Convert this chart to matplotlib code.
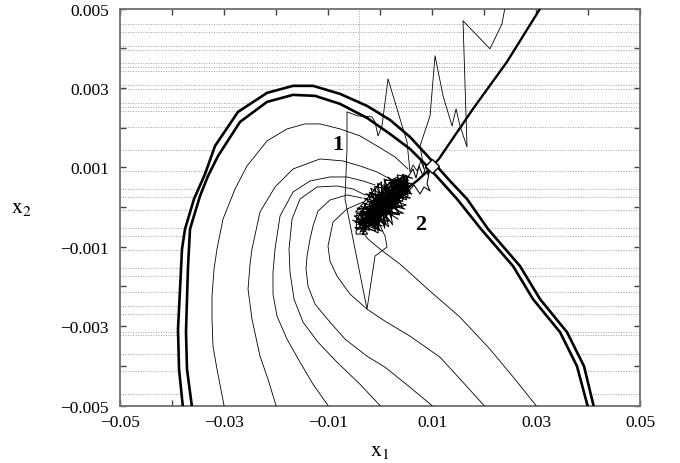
import numpy as np
import matplotlib
matplotlib.use('Agg')
import matplotlib.pyplot as plt

plt.rcParams['font.family'] = ['Liberation Serif', 'DejaVu Serif']
plt.rcParams['mathtext.fontset'] = 'stix'

# все координаты ниже в единицах 1e-3
MILLI = 1e-3

# граница области притяжения (две толстые кривые)
outer_x = [-37.9, -38.65, -38.85, -38.46, -38.08, -37.5, -35.77, -33.65, -31.73, -27.31, -21.73,
           -16.73, -12.88, -7.69, -2.5, 1.92, 5.77, 10.19, 13.46, 16.73, 20.77, 26.92, 30.77,
           35.96, 39.23, 41.15]
outer_y = [-5.05, -4.086, -3.077, -2.068, -1.059, -0.555, 0.202, 0.832, 1.538, 2.396, 2.875,
           3.052, 3.052, 2.850, 2.547, 2.194, 1.765, 1.135, 0.656, 0.202, -0.555, -1.488, -2.320,
           -3.153, -4.010, -5.05]
inner_x = [-36.15, -37.12, -37.31, -37.12, -36.92, -36.54, -34.62, -33.08, -31.15, -26.92, -21.73,
           -16.73, -12.5, -7.69, -2.5, 1.92, 5.77, 9.62, 14.81, 19.42, 25.58, 29.42, 34.62,
           37.88, 40.0]
inner_y = [-5.05, -4.086, -3.153, -2.320, -1.488, -0.555, 0.277, 0.782, 1.286, 2.144, 2.648,
           2.825, 2.800, 2.598, 2.245, 1.841, 1.463, 0.958, 0.202, -0.555, -1.488, -2.320, -3.153,
           -4.010, -5.05]

# толстая линия (сепаратриса) через ромб
sep_x = [3.85, 7.31, 10.0, 11.35, 17.88, 24.42, 30.77, 31.4]
sep_y = [0.328, 0.681, 1.009, 1.216, 2.472, 3.657, 4.994, 5.12]
diamond_x, diamond_y = 10.0, 1.03

# траектории, стартующие с нижней границы x2 = -0.005
c1_x = [-30.0, -31.35, -32.12, -32.31, -32.31, -31.92, -31.35, -30.19, -27.88, -25.58, -21.73,
        -17.88, -14.42, -11.54, -7.69, -3.85, -0.58, 2.88, 5.38]
c1_y = [-5.0, -4.086, -3.506, -2.825, -2.245, -1.564, -1.059, -0.303, 0.454, 1.034, 1.665,
        1.967, 2.093, 2.093, 1.967, 1.791, 1.538, 1.261, 0.958]
c2_x = [-20.0, -21.54, -23.08, -24.62, -25.38, -25.0, -24.62, -23.08, -20.19, -16.73, -11.54,
        -7.12, -3.85, -0.58, 1.92]
c2_y = [-5.0, -4.338, -3.758, -2.825, -2.068, -1.438, -1.059, -0.126, 0.504, 0.958, 1.211,
        1.160, 1.034, 0.883, 0.706]
c3_x = [-10.0, -12.88, -15.38, -17.88, -19.81, -20.58, -20.58, -20.19, -19.23, -16.73, -13.46,
        -9.62, -6.35, -3.27, -0.96]
c3_y = [-5.0, -4.464, -3.909, -3.329, -2.749, -2.194, -1.639, -1.059, -0.227, 0.378, 0.656,
        0.757, 0.757, 0.656, 0.555]
c4_x = [0.0, -3.85, -8.27, -11.92, -14.81, -16.54, -17.31, -17.5, -16.92, -15.38, -12.12,
        -8.27, -5.19, -2.88]
c4_y = [-5.0, -4.464, -3.909, -3.405, -2.900, -2.320, -1.639, -1.059, -0.303, 0.202, 0.504,
        0.530, 0.454, 0.303]
c5_x = [10.0, 4.81, 0.96, -2.5, -6.73, -9.62, -12.5, -13.85, -14.23, -14.04, -13.46, -12.88,
        -11.92, -9.62, -6.35, -3.46]
c5_y = [-5.0, -4.439, -4.035, -3.758, -3.329, -2.900, -2.446, -1.992, -1.564, -1.236, -0.807,
        -0.479, -0.101, 0.177, 0.303, 0.227]
c6_x = [20.0, 15.77, 11.54, 5.77, 0.96, -2.5, -5.77, -8.27, -9.62, -10.0, -9.04, -6.35, -3.27]
c6_y = [-5.0, -4.388, -3.783, -3.253, -2.875, -2.573, -2.194, -1.740, -1.362, -0.984, -0.378,
        -0.050, 0.126]
c7_x = [30.0, 25.96, 21.15, 15.38, 9.62, 3.85, 0.0, -2.31, -3.46, -4.04, -3.65, -2.69]
c7_y = [-5.0, -4.338, -3.581, -2.774, -2.119, -1.438, -1.059, -0.807, -0.605, -0.404, -0.151, 0.0]
curves = [(c1_x, c1_y), (c2_x, c2_y), (c3_x, c3_y), (c4_x, c4_y),
          (c5_x, c5_y), (c6_x, c6_y), (c7_x, c7_y)]

# траектория 2: шумовое облако около равновесия
t2_x = [0.77, 3.61, -1.25, 2.87, 2.35, 0.49, -3.10, 0.38, -3.29, -0.44, -3.01, -3.46, 0.58, -1.36,
        -2.07, 2.79, -1.06, 3.35, 2.90, 3.43, 4.83, 1.62, 4.55, 4.64, 0.96, 4.54, -0.23, 1.31,
        -2.64, 0.68, -2.54, -2.19, -3.85, -3.56, 0.12, -1.63, -0.97, 2.06, 1.77, 1.05, 3.91, 1.16,
        3.73, 5.00, 5.29, 5.02, 4.73, 2.25, 1.87, -1.34, -0.08, -3.65, -1.27, -3.75, -0.71, -1.55,
        -1.61, 1.96, -0.42, 3.25, 0.23, 3.17, 2.52, 5.10, 1.98, 5.19, 2.81, 3.15, -0.06, 0.02,
        -2.37, -0.24, -3.00, 0.04, 2.33, 2.62, 3.63, 3.81, 4.92, 2.08, 3.36, 3.72, 0.86, 0.95,
        -1.54, -3.19, -0.35, -2.92, -1.71, 1.50, -0.52, 2.42, 2.71, 2.88, 4.00, 5.65, 4.27, 1.78,
        1.14, -1.81, -0.90, -3.38, -2.73, -0.15, 2.69, 2.99, 4.37, 5.39,
        5.38, 6.35, 6.92, 7.50, 8.27, 8.85, 9.23, 9.62, 9.04, 9.62, 8.46, 7.69, 6.54, 4.81]
t2_y = [0.100, 0.119, 0.102, -0.034, 0.517, -0.230, -0.161, -0.340, -0.381, -0.361, -0.534,
        -0.116, -0.120, -0.492, 0.081, 0.098, 0.322, 0.273, 0.692, 0.142, 0.581, 0.606, 0.734,
        0.361, 0.320, 0.250, 0.344, -0.209, -0.095, -0.010, 0.016, -0.514, -0.556, -0.226,
        -0.186, -0.338, 0.189, 0.187, -0.144, 0.430, 0.450, 0.540, 0.714, 0.316, 0.646, 0.800,
        0.470, 0.406, -0.033, -0.008, -0.406, -0.336, -0.383, -0.446, -0.206, -0.470, 0.147,
        0.077, 0.123, 0.164, 0.409, 0.538, 0.253, 0.426, 0.561, 0.536, 0.583, 0.053, 0.078,
        -0.295, -0.250, -0.141, -0.050, 0.189, 0.033, 0.362, 0.603, 0.339, 0.690, 0.672, 0.758,
        0.229, 0.210, -0.164, -0.228, -0.270, -0.251, -0.425, 0.036, 0.011, 0.013, 0.142, 0.472,
        0.208, 0.559, 0.601, 0.405, 0.341, 0.056, -0.073, -0.427, -0.490, -0.205, -0.031, -0.012,
        0.318, 0.515, 0.756,
        0.757, 0.958, 0.731, 1.034, 0.782, 1.059, 0.807, 1.009, 0.580, 0.404, 0.504, 0.328,
        0.555, 0.303]

# тот же шум, внешний слой облака (более широкие размахи)
t3_x = [-0.54, 2.22, 0.74, 3.50, -3.14, -0.10, -4.49, -2.37, -4.61, -4.45, 1.70, -1.82, 4.30,
        1.77, 5.89, 4.29, 6.25, 3.29, 5.10, 0.18, 1.50, -3.66, -0.85, -4.81, -2.09, -2.46, 1.18,
        -0.58, 4.34, 4.73, 1.02, 6.21, 4.41, 0.94, 2.50, -3.70, -3.09, -3.37, -1.78, -4.77, -2.38,
        3.30, 1.70, 3.01, 5.37, 5.27, 4.93, 3.10, -2.10, 0.22, -3.49, 0.42, -3.05, 0.26, 0.14,
        4.38, 5.69, 2.49, 2.10, -1.14, -1.06, -2.42, 1.54, 0.22, 3.66, 4.77, 3.14, 2.30, -1.18,
        -2.05]
t3_y = [0.460, -0.287, 0.576, -0.170, 0.095, -0.550, -0.286, -0.682, -0.681, -0.155, -0.360,
        0.343, 0.005, 0.723, 0.357, 0.825, 0.722, 0.811, 0.182, 0.372, -0.199, 0.022, -0.594,
        -0.520, -0.579, -0.125, -0.433, 0.328, 0.137, 0.635, 0.680, 0.591, 0.401, 0.416, -0.184,
        -0.111, -0.594, -0.696, -0.345, -0.388, 0.138, -0.009, 0.459, 0.709, 0.284, 0.773, 0.474,
        0.152, 0.241, -0.316, -0.272, -0.476, -0.462, -0.184, 0.240, 0.269, 0.518, 0.636, 0.137,
        0.124, -0.433, 0.007, -0.067, 0.503, 0.357, 0.767, 0.283, -0.024, -0.008, -0.448]

# продольные скачки внутри облака
t4_x = [-3.57, 4.17, -2.98, 4.25, -1.33, 4.10, -3.85, 0.42, 0.70, 3.49, -1.02, 5.49, -2.14,
        4.14, -3.53, 2.38, -1.38, 2.25, -0.58, 2.42, -4.29, 1.82, -3.97, 5.41, 0.10, -0.26, 2.46,
        -2.57, 2.82, -1.98, 5.21, -0.22, 1.42, -2.53, 4.89, 1.02, -4.33, -0.86, 4.53, 1.10]
t4_y = [-0.535, 0.430, -0.199, 0.694, -0.536, 0.166, -0.637, 0.343, -0.374, 0.650, -0.301,
        0.679, 0.109, 0.299, -0.403, 0.240, 0.153, 0.665, -0.492, 0.371, -0.447, 0.035, -0.213,
        0.415, 0.109, -0.257, 0.504, -0.521, 0.049, -0.183, 0.576, -0.125, 0.357, -0.389, 0.342,
        -0.140, -0.579, 0.226, 0.796, 0.123]

# поперечные выбросы по краям облака
t5_x = [3.46, -3.10, 4.78, -1.78, 0.90, 0.26, -4.69, 4.50, -2.82, 5.85, -0.50, 1.66, -4.42,
        3.74, 0.78, 2.42, -2.06, 5.06, -4.97, 0.38, -5.25, -0.37, -1.02, 6.13, 1.53]
t5_y = [-0.302, 0.226, -0.053, 0.475, -0.535, 0.635, -0.125, -0.156, 0.329, 0.225, 0.591,
        -0.491, -0.023, -0.199, 0.709, -0.448, 0.372, 0.049, -0.228, -0.609, -0.330, -0.653,
        0.518, 0.328, 0.753]

# траектория 1: уходит из облака за границу
t1_x = [-0.38, 0.96, 1.35, -0.96, -2.50, -6.73, -6.35, -6.35, -4.23, -1.54, -0.96, -0.38, 0.38,
        1.54, 3.27, 5.19, 5.77, 6.35, 7.12, 7.88, 8.46, 7.69, 9.62, 10.58, 12.12, 13.85, 14.62,
        15.38, 16.73, 15.96, 21.15, 23.46, 24.23]
t1_y = [-0.353, -0.731, -1.009, -1.236, -2.573, 0.202, 1.463, 2.396, 2.295, 2.270, 2.144, 1.791,
        2.043, 3.228, 2.472, 1.639, 0.883, 1.059, 0.908, 1.160, 0.958, 1.538, 2.295, 3.808, 2.800,
        2.043, 2.472, 2.043, 1.513, 4.691, 3.985, 4.615, 5.17]

# пунктирная сетка (нерегулярная, как на оригинале)
grid_y = [4.61, 4.41, 4.05, 3.95, 3.63, 3.52, 3.42, 3.07, 2.97, 2.62, 2.52, 2.41, 2.01, 1.43,
          0.90, 0.45, 0.25, -0.08, -0.53, -0.73, -1.09, -1.54, -1.74, -2.15, -2.50, -2.70,
          -3.16, -3.23, -3.69, -4.14, -4.70]
grid_x = -4.0

xticks = [-0.05, -0.03, -0.01, 0.01, 0.03, 0.05]
xtick_labels = ['\u22120.05', '\u22120.03', '\u22120.01', '0.01', '0.03', '0.05']
xminor = [-0.04, -0.02, 0.0, 0.02, 0.04]
yticks = [-0.005, -0.003, -0.001, 0.001, 0.003, 0.005]
ytick_labels = ['\u22120.005', '\u22120.003', '\u22120.001', '0.001', '0.003', '0.005']
yminor = [-0.004, -0.002, 0.0, 0.002, 0.004]


def m(v):
    return np.asarray(v) * MILLI


fig = plt.figure(figsize=(6.8, 4.64), dpi=100)
ax = fig.add_axes([0.1765, 0.1239, 0.7647, 0.8556])

for gy in grid_y:
    ax.axhline(gy * MILLI, color='#a0a0a0', lw=0.7, ls=(0, (1, 1.6)), zorder=1)
ax.axvline(grid_x * MILLI, color='#a0a0a0', lw=0.7, ls=(0, (1, 1.6)), zorder=1)

# внутренность области закрашена белым — сетки там нет
ax.fill(m(outer_x), m(outer_y), color='white', zorder=2)

for cx, cy in curves:
    ax.plot(m(cx), m(cy), color='black', lw=0.6, zorder=3)

# облако рисуем чуть толще, чтобы было плотным, как на скане
for tx, ty in [(t2_x, t2_y), (t3_x, t3_y), (t4_x, t4_y), (t5_x, t5_y)]:
    ax.plot(m(tx), m(ty), color='black', lw=0.75, zorder=3)
ax.plot(m(t1_x), m(t1_y), color='black', lw=0.6, zorder=3)

ax.plot(m(outer_x), m(outer_y), color='black', lw=1.9, zorder=4)
ax.plot(m(inner_x), m(inner_y), color='black', lw=1.9, zorder=4)
ax.plot(m(sep_x), m(sep_y), color='black', lw=1.7, zorder=4)
ax.plot(diamond_x * MILLI, diamond_y * MILLI, marker='D', ms=7, mfc='white', mec='black',
        mew=1.0, zorder=5)

ax.text(-8.1 * MILLI, 1.59 * MILLI, '1', fontsize=16, fontweight='bold', ha='center',
        va='center', zorder=6)
ax.text(7.9 * MILLI, -0.43 * MILLI, '2', fontsize=16, fontweight='bold', ha='center',
        va='center', zorder=6)

ax.set_xlim(-0.05, 0.05)
ax.set_ylim(-0.005, 0.005)
ax.set_xticks(xticks)
ax.set_xticklabels(xtick_labels)
ax.set_xticks(xminor, minor=True)
ax.set_yticks(yticks)
ax.set_yticklabels(ytick_labels)
ax.set_yticks(yminor, minor=True)
ax.tick_params(which='both', direction='in', length=4, width=1.0, color='#444444',
               top=True, right=True, labelsize=12.5)
ax.tick_params(axis='x', which='major', pad=6)
ax.tick_params(axis='y', which='major', pad=8)
for sp in ax.spines.values():
    sp.set_color('#707070')
    sp.set_linewidth(1.3)

ax.set_xlabel(r'$\mathrm{x_1}$', fontsize=16, labelpad=8)
ax.set_ylabel(r'$\mathrm{x_2}$', fontsize=16, rotation=0, labelpad=28, va='center')

plt.savefig('out.png', dpi=100)
